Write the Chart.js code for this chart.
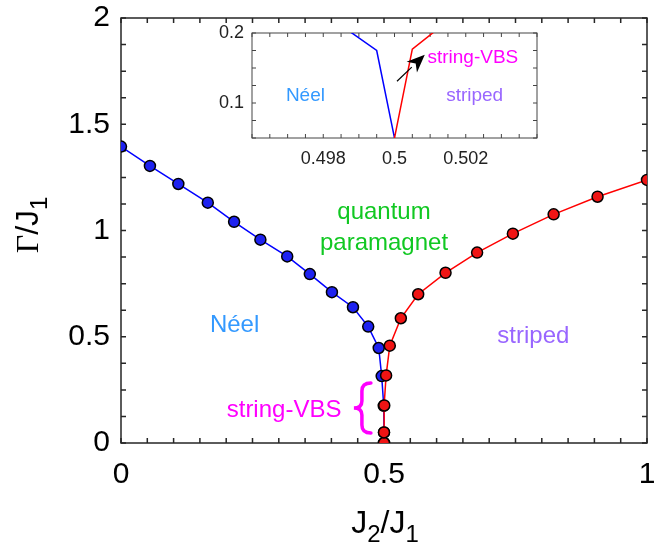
<!DOCTYPE html>
<html>
<head>
<meta charset="utf-8">
<script src="https://cdn.jsdelivr.net/npm/chart.js@4.4.1/dist/chart.umd.min.js"></script>
<style>
  html, body { margin: 0; padding: 0; background: #fff; }
  #wrap { position: relative; width: 654px; height: 547px; overflow: hidden; }
  #main { position: absolute; left: 0; top: 0; }
  #inset { position: absolute; left: 180px; top: 20px; }
</style>
</head>
<body>
<div id="wrap">
  <canvas id="main" width="654" height="547"></canvas>
  <canvas id="inset" width="370" height="170"></canvas>
</div>
<script>
// Néel boundary (blue)
const neelJ2 = [0, 0.055, 0.109, 0.165, 0.215, 0.265, 0.316, 0.359, 0.401, 0.441, 0.470, 0.490, 0.4956, 0.4995, 0.5, 0.5];
const neelG  = [1.395, 1.304, 1.219, 1.131, 1.041, 0.957, 0.878, 0.795, 0.710, 0.639, 0.548, 0.447, 0.315, 0.175, 0.05, 0];
// striped boundary (red)
const stripedJ2 = [0.5, 0.5, 0.5005, 0.504, 0.511, 0.532, 0.565, 0.617, 0.677, 0.745, 0.8225, 0.906, 1.0];
const stripedG  = [0, 0.05, 0.177, 0.318, 0.458, 0.587, 0.700, 0.801, 0.896, 0.985, 1.076, 1.159, 1.238];

// tick labels
const xLabels = [0, 0.5, 1];
const yLabels = [0, 0.5, 1, 1.5, 2];
const insetXLabels = [0.498, 0.5, 0.502];
const insetYLabels = [0.1, 0.2];

Chart.defaults.font.family = "'Liberation Sans', Arial, Helvetica, sans-serif";
Chart.defaults.color = '#000';

const pts = (xs, ys) => xs.map((x, i) => ({ x: x, y: ys[i] }));
const pick = list => v => {
  const hit = list.find(l => Math.abs(l - v) < 1e-7);
  return hit === undefined ? '' : String(hit);
};

// box with inward ticks on all four sides
function frame(len, lw, color) {
  return {
    id: 'frame',
    beforeDatasetsDraw(chart) {
      const { ctx, chartArea: a, scales: { x, y } } = chart;
      ctx.save();
      ctx.strokeStyle = color;
      ctx.lineWidth = lw;
      ctx.beginPath();
      x.ticks.forEach(t => {
        const p = x.getPixelForValue(t.value);
        ctx.moveTo(p, a.bottom); ctx.lineTo(p, a.bottom - len);
        ctx.moveTo(p, a.top); ctx.lineTo(p, a.top + len);
      });
      y.ticks.forEach(t => {
        const p = y.getPixelForValue(t.value);
        ctx.moveTo(a.left, p); ctx.lineTo(a.left + len, p);
        ctx.moveTo(a.right, p); ctx.lineTo(a.right - len, p);
      });
      ctx.stroke();
      ctx.strokeRect(a.left, a.top, a.right - a.left, a.bottom - a.top);
      ctx.restore();
    }
  };
}

function label(chart, text, x, y, size, color) {
  const ctx = chart.ctx;
  ctx.save();
  ctx.font = size + "px 'Liberation Sans', Arial, sans-serif";
  ctx.fillStyle = color;
  ctx.textAlign = 'center';
  ctx.textBaseline = 'middle';
  ctx.fillText(text, chart.scales.x.getPixelForValue(x), chart.scales.y.getPixelForValue(y));
  ctx.restore();
}

// text made of pieces (for subscripts), centred on cx, baseline cy
function rich(ctx, parts, cx, cy, rot) {
  ctx.save();
  let w = 0;
  parts.forEach(p => { ctx.font = p.font; w += ctx.measureText(p.t).width; });
  ctx.translate(cx, cy);
  ctx.rotate(rot);
  ctx.fillStyle = '#000';
  ctx.textBaseline = 'alphabetic';
  let x = -w / 2;
  parts.forEach(p => {
    ctx.font = p.font;
    ctx.fillText(p.t, x, p.dy);
    x += ctx.measureText(p.t).width;
  });
  ctx.restore();
}

const mainNotes = {
  id: 'mainNotes',
  afterDraw(chart) {
    label(chart, 'quantum', 0.5, 1.085, 24, '#11c822');
    label(chart, 'paramagnet', 0.5, 0.94, 24, '#11c822');
    label(chart, 'Néel', 0.216, 0.555, 24, '#3399ff');
    label(chart, 'striped', 0.784, 0.503, 24, '#9966ff');
    label(chart, 'string-VBS', 0.31, 0.155, 24, '#ff00ff');

    // curly brace
    const ctx = chart.ctx;
    const cx = chart.scales.x.getPixelForValue(0.458);
    const cy = chart.scales.y.getPixelForValue(0.165);
    const h = 25, xl = cx - 8, xm = cx, xr = cx + 9;
    ctx.save();
    ctx.strokeStyle = '#ff00ff';
    ctx.lineWidth = 3.5;
    ctx.lineCap = 'round';
    ctx.beginPath();
    ctx.moveTo(xr, cy - h);
    ctx.quadraticCurveTo(xm, cy - h, xm, cy - h + 8);
    ctx.lineTo(xm, cy - 7);
    ctx.quadraticCurveTo(xm, cy, xl, cy);
    ctx.quadraticCurveTo(xm, cy, xm, cy + 7);
    ctx.lineTo(xm, cy + h - 8);
    ctx.quadraticCurveTo(xm, cy + h, xr, cy + h);
    ctx.stroke();
    ctx.restore();

    const big = "32px 'Liberation Sans', Arial, sans-serif";
    const sub = "24px 'Liberation Sans', Arial, sans-serif";
    rich(ctx, [
      { t: 'J', font: big, dy: 0 }, { t: '2', font: sub, dy: 9 },
      { t: '/J', font: big, dy: 0 }, { t: '1', font: sub, dy: 9 }
    ], 385, 533, 0);
    rich(ctx, [
      { t: 'Γ', font: "32px 'Liberation Serif', 'Times New Roman', serif", dy: 0 },
      { t: '/J', font: big, dy: 0 }, { t: '1', font: sub, dy: 9 }
    ], 38, 225, -Math.PI / 2);
  }
};

new Chart(document.getElementById('main'), {
  type: 'scatter',
  data: {
    datasets: [
      {
        label: 'striped', order: 0,
        data: pts(stripedJ2, stripedG),
        showLine: true, borderColor: '#ff0000', borderWidth: 1.5,
        pointBackgroundColor: '#f01414', pointBorderColor: '#000', pointBorderWidth: 1.5,
        pointRadius: 5.5
      },
      {
        label: 'Néel', order: 1,
        data: pts(neelJ2, neelG),
        showLine: true, borderColor: '#0000ff', borderWidth: 1.5,
        pointBackgroundColor: '#1e22f0', pointBorderColor: '#000', pointBorderWidth: 1.5,
        pointRadius: 5.5
      }
    ]
  },
  options: {
    responsive: false,
    animation: false,
    events: [],
    layout: { padding: { top: 18, right: 5, left: 0, bottom: 0 } },
    plugins: { legend: { display: false }, tooltip: { enabled: false } },
    scales: {
      x: {
        type: 'linear', min: 0, max: 1,
        grid: { display: false, drawTicks: false }, border: { display: false },
        ticks: {
          stepSize: 0.05, autoSkip: false, maxRotation: 0, minRotation: 0,
          padding: 14, color: '#000', font: { size: 30 },
          callback: pick(xLabels)
        },
        afterFit: s => { s.height = 104; s.paddingLeft = 0; s.paddingRight = 0; }
      },
      y: {
        type: 'linear', min: 0, max: 2,
        grid: { display: false, drawTicks: false }, border: { display: false },
        ticks: {
          stepSize: 0.125, autoSkip: false, padding: 11, color: '#000', font: { size: 30 },
          callback: pick(yLabels)
        },
        afterFit: s => { s.width = 121; s.paddingTop = 0; s.paddingBottom = 0; }
      }
    }
  },
  plugins: [frame(5, 1.5, '#262626'), mainNotes]
});

const insetNotes = {
  id: 'insetNotes',
  afterDraw(chart) {
    label(chart, 'Néel', 0.4975, 0.11, 19, '#3399ff');
    label(chart, 'striped', 0.50225, 0.11, 19, '#9966ff');
    label(chart, 'string-VBS', 0.5022, 0.165, 19, '#ff00ff');

    // arrow towards string-VBS
    const { ctx, scales: { x, y } } = chart;
    const x0 = x.getPixelForValue(0.50007), y0 = y.getPixelForValue(0.131);
    const x1 = x.getPixelForValue(0.50085), y1 = y.getPixelForValue(0.169);
    const ang = Math.atan2(y1 - y0, x1 - x0);
    const hl = 18, hw = 7.5;
    const bx = x1 - hl * Math.cos(ang), by = y1 - hl * Math.sin(ang);
    ctx.save();
    ctx.strokeStyle = '#000';
    ctx.fillStyle = '#000';
    ctx.lineWidth = 1.2;
    ctx.beginPath();
    ctx.moveTo(x0, y0); ctx.lineTo(bx, by);
    ctx.stroke();
    ctx.beginPath();
    ctx.moveTo(x1, y1);
    ctx.lineTo(bx + hw * Math.sin(ang), by - hw * Math.cos(ang));
    ctx.lineTo(bx + 0.3 * hl * Math.cos(ang), by + 0.3 * hl * Math.sin(ang));
    ctx.lineTo(bx - hw * Math.sin(ang), by + hw * Math.cos(ang));
    ctx.closePath();
    ctx.fill();
    ctx.restore();
  }
};

new Chart(document.getElementById('inset'), {
  type: 'scatter',
  data: {
    datasets: [
      {
        label: 'striped', order: 0, clip: 0,
        data: pts(stripedJ2, stripedG),
        showLine: true, borderColor: '#ff0000', borderWidth: 1.5, pointRadius: 0
      },
      {
        label: 'Néel', order: 1, clip: 0,
        data: pts(neelJ2, neelG),
        showLine: true, borderColor: '#0000ff', borderWidth: 1.5, pointRadius: 0
      }
    ]
  },
  options: {
    responsive: false,
    animation: false,
    events: [],
    layout: { padding: { top: 13, right: 13, left: 0, bottom: 0 } },
    plugins: { legend: { display: false }, tooltip: { enabled: false } },
    scales: {
      x: {
        type: 'linear', min: 0.496, max: 0.504,
        grid: { display: false, drawTicks: false }, border: { display: false },
        ticks: {
          stepSize: 0.0005, autoSkip: false, maxRotation: 0, minRotation: 0,
          padding: 10, color: '#222', font: { size: 18 },
          callback: pick(insetXLabels)
        },
        afterFit: s => { s.height = 52; s.paddingLeft = 0; s.paddingRight = 0; }
      },
      y: {
        type: 'linear', min: 0.05, max: 0.2,
        grid: { display: false, drawTicks: false }, border: { display: false },
        ticks: {
          stepSize: 0.025, autoSkip: false, padding: 8, color: '#222', font: { size: 18 },
          callback: pick(insetYLabels)
        },
        afterFit: s => { s.width = 72; s.paddingTop = 0; s.paddingBottom = 0; }
      }
    }
  },
  plugins: [frame(4, 1, '#444'), insetNotes]
});
</script>
</body>
</html>
